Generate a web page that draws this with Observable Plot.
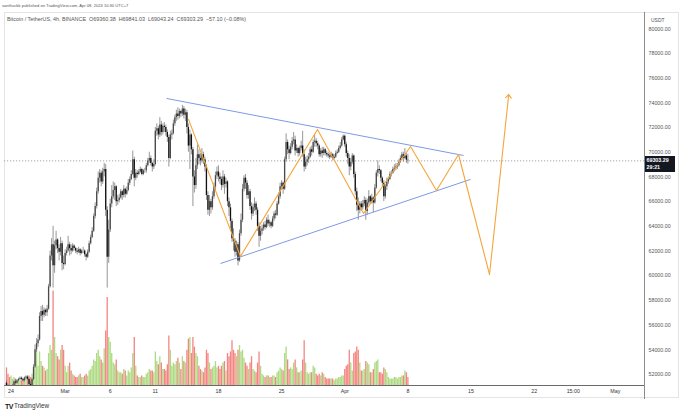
<!DOCTYPE html>
<html><head><meta charset="utf-8">
<script src="https://cdn.jsdelivr.net/npm/d3@7"></script>
<script src="https://cdn.jsdelivr.net/npm/@observablehq/plot@0.6"></script>
<style>
body{margin:0;background:#fff;}
#wrap{position:relative;width:680px;height:415px;overflow:hidden;font-family:"Liberation Sans",Arial,sans-serif;}
.abs{position:absolute;line-height:1;white-space:nowrap;}
</style></head><body>
<div id="wrap">
 <div class="abs" style="left:4px;top:12px;width:673px;height:384px;border:1px solid #e4e4e4;"></div>
 <div class="abs" id="vol" style="left:0;top:0"></div>
 <div class="abs" id="price" style="left:0;top:0"></div>
 <div class="abs" style="left:644px;top:12px;width:1px;height:387px;background:#8c8c8c"></div>
 <div class="abs" style="left:4px;top:385px;width:640px;height:1px;background:#6a6a6a"></div>
 <div class="abs" style="left:2px;top:3.9px;font-size:4.1px;color:#555">vanthucbk published on TradingView.com, Apr 08, 2024 10:30 UTC+7</div>
 <div class="abs" style="left:7px;top:16.6px;font-size:5.4px;color:#555">Bitcoin / TetherUS, 4h, BINANCE&nbsp; O69360.38&nbsp; H69841.03&nbsp; L69043.24&nbsp; C69303.29&nbsp; −57.10 (−0.08%)</div>
 <div class="abs" style="left:645px;top:13px;width:32px;height:14px;background:#fff;"></div>
 <div class="abs" style="left:651px;top:18.2px;font-size:5px;color:#555">USDT</div>
 <div class="abs" id="pbox" style="left:645px;width:30px;height:16px;background:#131722;color:#fff;font-size:5.3px;font-weight:bold;">
   <div class="abs" style="left:1.5px;top:2.5px">69303.29</div>
   <div class="abs" style="left:1.5px;top:9.5px">29:21</div>
 </div>
 <div class="abs" style="left:5px;top:403px;font-size:7px;font-weight:bold;color:#131722;letter-spacing:-0.5px">TV</div>
 <div class="abs" style="left:14px;top:403.3px;font-size:6.4px;color:#333">TradingView</div>
</div>
<script>
// ---- 4h candles, BTC/USDT, prices in thousands of USDT (Feb 23 12:00 -> Apr 8 00:00) ----
const firstOpen = 51.3;
const close = [
 51.1,50.9,50.8,                 // Feb 23
 50.9,51.1,51.4,51.3,51.5,51.6,  // Feb 24
 51.7,51.6,51.5,51.7,51.8,51.6,  // Feb 25
 51.2,51.0,51.6,52.6,54.0,54.5,  // Feb 26
 54.8,56.7,57.1,56.8,57.2,57.0,  // Feb 27
 57.3,59.1,61.6,62.5,60.8,62.4,  // Feb 28
 62.9,62.2,61.9,62.6,61.0,60.9,  // Feb 29
 61.8,62.0,62.5,62.2,62.0,62.4,  // Mar 1
 62.2,62.0,61.9,62.1,61.8,62.0,  // Mar 2
 62.0,61.7,61.5,61.9,62.6,63.1,  // Mar 3
 63.6,64.8,65.6,66.8,67.9,68.3,  // Mar 4
 67.6,68.4,68.6,65.3,61.5,63.7,  // Mar 5
 65.8,66.4,66.9,67.2,66.0,66.1,  // Mar 6
 66.3,66.8,66.5,67.0,66.6,66.9,  // Mar 7
 67.5,67.8,68.2,69.4,67.9,68.3,  // Mar 8
 68.2,68.4,68.6,68.2,68.5,68.5,  // Mar 9
 68.9,69.3,69.5,69.1,68.8,69.0,  // Mar 10
 71.7,71.9,71.4,72.2,71.6,72.1,  // Mar 11
 72.0,71.6,71.2,69.5,71.4,71.5,  // Mar 12
 72.3,72.8,73.1,72.9,73.3,73.1,  // Mar 13
 73.5,73.0,73.2,72.0,70.5,71.4,  // Mar 14
 70.2,68.0,67.3,68.9,69.8,69.5,  // Mar 15
 69.3,69.8,69.4,68.8,66.5,65.3,  // Mar 16
 66.0,65.5,66.4,67.2,68.1,68.4,  // Mar 17
 68.0,67.8,67.3,68.0,67.4,67.6,  // Mar 18
 66.0,65.5,64.4,63.0,62.8,61.9,  // Mar 19
 62.5,61.2,63.4,64.5,67.0,67.9,  // Mar 20
 67.5,66.5,66.8,65.6,65.0,65.5,  // Mar 21
 65.8,65.3,64.0,63.2,63.6,63.8,  // Mar 22
 64.1,63.9,64.5,64.2,64.3,64.0,  // Mar 23
 64.6,65.0,64.9,65.8,66.4,67.2,  // Mar 24
 67.5,67.0,69.4,70.8,70.2,69.9,  // Mar 25
 70.4,70.9,71.0,70.1,70.3,69.9,  // Mar 26
 70.3,70.5,69.8,68.8,69.2,69.4,  // Mar 27
 69.6,70.2,70.0,70.8,70.9,70.7,  // Mar 28
 70.5,69.8,70.1,69.9,70.2,69.9,  // Mar 29
 69.8,69.7,69.6,69.8,69.5,69.6,  // Mar 30
 69.9,70.0,70.3,70.5,71.0,71.3,  // Mar 31
 70.6,69.9,69.5,68.8,69.2,69.7,  // Apr 1
 68.2,66.8,65.7,65.3,65.8,65.5,  // Apr 2
 65.8,66.1,65.2,65.9,66.4,66.0,  // Apr 3
 66.3,65.9,67.1,68.3,68.6,68.5,  // Apr 4
 67.9,67.5,66.4,67.2,67.6,67.8,  // Apr 5
 68.2,68.3,68.6,68.7,68.8,68.9,  // Apr 6
 69.2,69.5,69.8,69.5,69.7,69.36038, // Apr 7
 69.30329                        // Apr 8
];
const high = [
 51.5,51.2,51.0,
 51.0,51.2,51.5,51.6,51.6,51.7,
 51.8,51.8,51.7,51.8,51.9,51.9,
 51.7,51.4,51.7,52.8,54.4,54.9,
 55.2,57.0,57.5,57.6,57.4,57.3,
 57.6,59.3,62.0,63.0,64.0,62.8,
 63.6,63.0,62.5,63.1,62.8,61.6,
 62.1,62.3,63.2,62.7,62.5,62.6,
 62.5,62.3,62.2,62.3,62.2,62.1,
 62.3,62.1,61.8,62.1,62.8,63.3,
 63.9,65.0,65.9,67.1,68.4,68.6,
 68.5,68.7,69.1,69.0,65.6,64.5,
 66.2,67.3,67.6,67.5,67.3,66.5,
 66.6,67.0,66.9,67.3,67.1,67.2,
 67.8,68.0,68.5,70.1,69.6,68.6,
 68.5,68.6,68.8,68.7,68.6,68.7,
 69.1,69.5,70.0,69.7,69.2,69.4,
 72.0,72.3,72.1,72.8,72.5,72.3,
 72.4,72.2,71.8,71.4,71.7,71.8,
 72.6,73.0,73.4,73.6,73.5,73.4,
 73.8,73.7,73.5,73.4,72.3,71.8,
 71.5,70.4,68.5,69.5,70.6,70.2,
 69.9,70.3,70.0,69.6,69.0,66.8,
 66.5,66.2,66.8,67.5,68.4,68.8,
 68.9,68.3,68.0,68.5,68.2,67.9,
 67.7,66.3,65.8,64.6,63.8,63.0,
 62.8,62.7,63.7,65.0,67.4,68.1,
 68.2,67.7,67.3,67.0,65.9,65.8,
 66.3,66.0,65.5,64.3,64.0,64.1,
 64.3,64.4,64.7,64.9,64.5,64.4,
 64.8,65.2,65.3,66.0,66.7,67.5,
 67.7,67.6,69.6,71.5,71.0,70.5,
 70.7,71.2,71.6,71.3,70.6,70.4,
 70.5,70.9,71.7,70.2,69.6,69.7,
 69.9,70.4,70.5,71.0,71.4,71.1,
 70.9,70.6,70.3,70.4,70.4,70.3,
 70.1,70.0,69.9,70.0,69.9,69.8,
 70.1,70.2,70.5,70.8,71.2,71.4,
 71.4,70.8,70.1,69.8,69.5,69.9,
 69.8,68.4,67.1,66.3,66.0,66.0,
 66.1,66.4,66.3,66.2,66.9,66.5,
 66.6,66.4,67.4,68.5,69.3,68.9,
 68.6,68.0,67.7,67.4,67.9,68.0,
 68.4,68.5,68.8,69.0,69.1,69.1,
 69.4,69.7,70.0,70.0,70.3,69.9,
 69.84103
];
const low = [
 50.9,50.7,50.6,
 50.5,50.8,51.0,51.2,51.2,51.4,
 51.5,51.5,51.4,51.4,51.6,51.5,
 51.0,50.9,50.9,51.5,52.5,53.8,
 54.2,54.7,56.3,56.3,56.6,56.7,
 56.7,57.2,59.0,61.2,59.0,60.2,
 62.1,61.8,61.2,61.6,60.4,60.5,
 60.8,61.6,61.9,61.6,61.7,61.9,
 62.0,61.8,61.7,61.8,61.6,61.7,
 61.8,61.5,61.2,61.4,61.8,62.5,
 63.0,63.5,64.6,65.4,66.6,67.5,
 67.2,67.4,68.0,64.8,59.0,61.0,
 63.5,65.5,66.2,66.1,65.6,65.7,
 65.9,66.2,66.1,66.3,66.3,66.5,
 66.8,67.3,67.7,68.1,67.2,67.7,
 67.9,68.1,68.3,68.1,68.1,68.3,
 68.3,68.8,69.1,68.9,68.4,68.6,
 68.9,71.3,71.0,71.2,71.3,71.4,
 71.6,71.3,70.8,68.8,69.4,71.0,
 71.4,72.1,72.5,72.6,72.7,72.8,
 72.9,72.7,72.5,71.5,70.0,68.6,
 69.8,65.6,66.7,67.0,68.6,69.0,
 68.9,69.1,69.0,68.4,66.1,64.9,
 64.8,65.0,65.3,66.2,66.9,67.8,
 67.6,67.4,66.9,67.1,66.6,67.1,
 65.6,64.8,63.8,62.7,62.0,61.5,
 61.6,60.8,61.1,63.2,64.3,66.8,
 67.0,66.2,66.2,65.3,64.5,64.8,
 65.2,64.9,63.6,62.3,62.8,63.3,
 63.6,63.7,63.8,64.0,63.9,63.8,
 63.9,64.4,64.6,64.8,65.7,66.2,
 66.9,66.6,66.9,69.2,69.8,69.4,
 69.8,70.2,70.6,69.7,69.9,69.6,
 69.7,70.1,69.6,68.4,68.6,68.9,
 69.1,69.5,69.7,69.9,70.4,70.4,
 70.2,69.6,69.6,69.5,69.7,69.7,
 69.6,69.5,69.4,69.5,69.3,69.4,
 69.5,69.8,69.9,70.2,70.4,70.9,
 70.4,69.6,69.0,68.1,68.5,69.0,
 67.9,66.5,65.2,64.5,65.0,65.2,
 65.3,65.6,64.5,64.9,65.7,65.8,
 65.8,65.1,65.8,67.0,68.0,68.2,
 67.6,67.2,66.0,66.2,66.9,67.4,
 67.7,68.0,68.2,68.4,68.5,68.6,
 68.8,69.1,69.3,69.2,69.4,69.1,
 69.04324
];
// volume, thousands of BTC
const volume = [
 11,7,5,
 6,4,5,4,3,4,
 3,3,4,5,4,5,
 6,5,7,10,15,22,
 12,21,15,12,11,9,
 10,20,25,22,59,30,
 20,18,16,22,25,22,
 12,8,12,14,9,7,
 6,5,5,6,7,5,
 5,6,7,6,9,10,
 12,16,15,20,22,18,
 16,14,23,34,55,30,
 27,20,14,13,16,9,
 8,8,7,10,9,6,
 9,8,11,20,30,12,
 6,5,5,6,5,5,
 7,8,10,9,9,8,
 21,15,13,18,14,10,
 10,9,13,31,22,12,
 14,13,15,17,14,10,
 18,15,14,22,29,30,
 20,30,24,20,18,12,
 10,9,8,11,22,20,
 14,10,11,12,15,11,
 12,10,12,14,15,9,
 20,18,21,28,22,20,
 18,22,25,21,22,17,
 14,12,10,14,18,10,
 9,8,14,21,12,7,
 6,5,6,6,5,5,
 6,6,5,8,9,11,
 10,9,20,24,16,10,
 11,10,14,16,11,8,
 8,9,16,28,14,8,
 7,8,8,12,11,7,
 6,7,6,8,7,5,
 4,4,4,4,4,3,
 4,4,5,5,6,6,
 10,12,13,22,14,9,
 20,21,24,22,14,9,
 9,10,15,14,13,8,
 8,10,14,15,16,8,
 8,7,11,10,8,5,
 4,4,4,5,5,4,
 5,5,6,6,9,8,
 5
];
// ---- drawings: triangle trend lines and projected path ----
const trendT1 = ["2024-03-12T05:45Z", "2024-03-18T05:30Z"];
const trendP1 = [74360, 60990];
const trendT2 = ["2024-04-14T04:00Z", "2024-04-14T22:30Z"];
const trendP2 = [69740, 67800];
const pathT = ["2024-03-14T16:20Z","2024-03-20T10:30Z","2024-03-28T23:30Z","2024-04-03T02:00Z","2024-04-08T07:00Z","2024-04-11T04:00Z","2024-04-13T14:40Z","2024-04-17T01:10Z","2024-04-19T04:20Z"];
const pathP = [72660, 61560, 71850, 65040, 70470, 66900, 69820, 60100, 74680];
// ---- axes ----
const xTickDates = ["2024-02-24","2024-03-01","2024-03-06","2024-03-11","2024-03-18","2024-03-25","2024-04-01","2024-04-08","2024-04-15","2024-04-22","2024-04-26T08:00Z","2024-05-01"];
const xTickLabels = ["24","Mar","6","11","18","25","Apr","8","15","22","15:00","May"];
const yTicks = [52000,54000,56000,58000,60000,62000,64000,66000,68000,70000,72000,74000,76000,78000,80000];

const n = close.length;
if (high.length !== n || low.length !== n || volume.length !== n) throw new Error("length mismatch " + [n, high.length, low.length, volume.length]);
const startT = Date.UTC(2024, 1, 23, 12);
const step = 4 * 3600e3;
const candles = close.map((c, i) => ({
  t: new Date(startT + i * step),
  open: (i ? close[i - 1] : firstOpen) * 1000,
  close: c * 1000, high: high[i] * 1000, low: low[i] * 1000, vol: volume[i]
}));
candles.forEach(d => d.up = d.close >= d.open);
const last = candles[n - 1];

const dayMs = 864e5;
const origin = Date.UTC(2024, 1, 24);
const xDomain = [new Date(origin - 0.72 * dayMs), new Date(origin + 70.23 * dayMs)];
const tickDates = xTickDates.map(s => new Date(s.length === 10 ? s + "T00:00Z" : s));
const labelOf = new Map(tickDates.map((d, i) => [+d, xTickLabels[i]]));
const trends = trendT1.map((t, i) => ({t1: new Date(t), p1: trendP1[i], t2: new Date(trendT2[i]), p2: trendP2[i]}));
const path = pathT.map((t, i) => ({t: new Date(t), p: pathP[i]}));

const common = {width: 680, height: 400, marginLeft: 4, marginRight: 36, marginBottom: 15,
  style: "background:transparent;font-family:'Liberation Sans',Arial,sans-serif;overflow:visible"};

const volPlot = Plot.plot({
  ...common, marginTop: 225,
  x: {type: "utc", domain: xDomain, axis: null},
  y: {domain: [0, 100], axis: null},
  marks: [
    Plot.ruleX(candles, {x: "t", y1: 0, y2: "vol", stroke: d => d.up ? "#9fd46c" : "#f26e6a", strokeWidth: 1.3, strokeOpacity: 0.85})
  ]
});
document.getElementById("vol").append(volPlot);

const pricePlot = Plot.plot({
  ...common, marginTop: 12,
  x: {type: "utc", domain: xDomain},
  y: {domain: [51109, 81321]},
  marks: [
    Plot.axisX(tickDates, {tickSize: 0, tickPadding: 3.5, fontSize: 5.3, color: "#333", tickFormat: d => labelOf.get(+d), label: null}),
    Plot.axisY(yTicks, {anchor: "right", tickSize: 0, tickPadding: 4, fontSize: 5.3, color: "#555", tickFormat: d3.format(".2f"), label: null}),
    Plot.ruleY([last.close], {stroke: "#9a9a9a", strokeWidth: 0.9, strokeDasharray: "1.2,1.8"}),
    Plot.ruleX(candles, {x: "t", y1: "low", y2: "high", stroke: "#7c7c7c", strokeWidth: 0.8, clip: true}),
    Plot.ruleX(candles, {x: "t", y1: "open", y2: "close", stroke: d => d.up ? "#4a4a4a" : "#111111", strokeWidth: 1.3, clip: true}),
    Plot.link(trends, {x1: "t1", y1: "p1", x2: "t2", y2: "p2", stroke: "#7b9be6", strokeWidth: 1}),
    Plot.line(path.slice(0, path.length - 1), {x: "t", y: "p", stroke: "#f4a53c", strokeWidth: 1.1}),
    Plot.arrow([[path[path.length - 2], path[path.length - 1]]], {x1: d => d[0].t, y1: d => d[0].p, x2: d => d[1].t, y2: d => d[1].p, stroke: "#f4a53c", strokeWidth: 1.1, headLength: 6, headAngle: 80})
  ]
});
document.getElementById("price").append(pricePlot);
const yPix = pricePlot.scale("y").apply(last.close);
document.getElementById("pbox").style.top = (yPix - 4.5) + "px";
</script>
</body></html>
